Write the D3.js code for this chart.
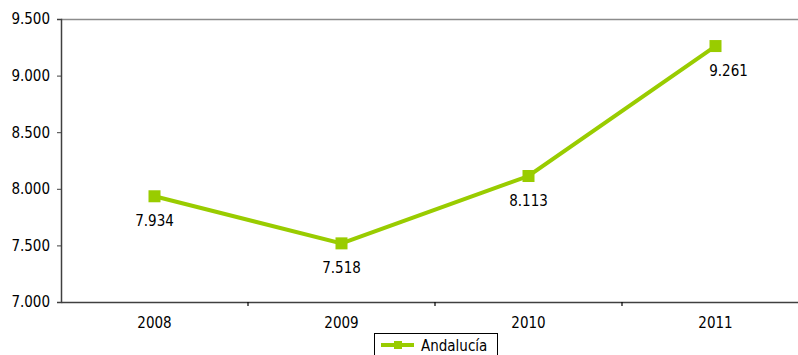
<!DOCTYPE html>
<html><head><meta charset="utf-8">
<script src="https://cdn.jsdelivr.net/npm/d3@7"></script>
<style>body{margin:0;background:#fff;}svg{display:block;font-family:"DejaVu Sans Condensed","DejaVu Sans",sans-serif;font-stretch:condensed;}</style>
</head><body><svg id="c" width="798" height="355"></svg>
<script>
const categories = ["2008","2009","2010","2011"];
const values = [7934, 7518, 8113, 9261];
const valueLabels = ["7.934","7.518","8.113","9.261"];
const yTicks = [7000,7500,8000,8500,9000,9500];
const seriesName = "Andalucía";

(function(){
const svg = d3.select("#c");
const left = 61, plotTop = 19, bottom = 302, band = 187;
const FF = "DejaVu Sans Condensed, DejaVu Sans, sans-serif";
const FS = 15;
const x = d3.scaleBand().domain(categories).range([left, left + band*categories.length]);
const y = d3.scaleLinear().domain([7000,9500]).range([bottom, plotTop]);
const fmt = v => d3.format(",")(v).replace(/,/g,".");
const green = "#99cc00";

// top border
svg.append("line").attr("x1",left).attr("x2",798).attr("y1",plotTop+0.5).attr("y2",plotTop+0.5)
  .attr("stroke","#8c8c8c").attr("stroke-width",1.5);

// y axis
const ya = svg.append("g").attr("transform",`translate(${left},0)`)
  .call(d3.axisLeft(y).tickValues(yTicks).tickFormat(fmt).tickSize(4).tickPadding(7));
ya.attr("font-family",FF).attr("font-size",FS);
ya.select(".domain").attr("stroke","#404040").attr("stroke-width",1.5);
ya.selectAll(".tick line").attr("stroke","#404040");
ya.selectAll("text").attr("fill","#000");

// x axis
const xa = svg.append("g").attr("transform",`translate(0,${bottom})`)
  .call(d3.axisBottom(x).tickSize(0).tickPadding(15));
xa.attr("font-family",FF).attr("font-size",FS);
xa.select(".domain").attr("stroke","#404040").attr("stroke-width",1.5);
xa.selectAll("text").attr("fill","#000");
// boundary ticks
xa.selectAll(".bt").data(categories.slice(1).concat(["_end"])).enter().append("line")
  .attr("x1",(d,i)=>left+band*(i+1)).attr("x2",(d,i)=>left+band*(i+1))
  .attr("y1",0).attr("y2",4).attr("stroke","#000").attr("stroke-width",1.2);

// line
const line = d3.line().x((d,i)=>x(categories[i])+x.bandwidth()/2).y(d=>y(d));
svg.append("path").datum(values).attr("d",line).attr("fill","none")
  .attr("stroke",green).attr("stroke-width",4);
svg.selectAll(".m").data(values).enter().append("rect")
  .attr("x",(d,i)=>x(categories[i])+x.bandwidth()/2-6).attr("y",d=>y(d)-6)
  .attr("width",12).attr("height",12).attr("fill",green);
svg.selectAll(".lbl").data(values).enter().append("text")
  .attr("x",(d,i)=>x(categories[i])+x.bandwidth()/2 + (i===values.length-1?13:0)).attr("y",d=>y(d)+30)
  .attr("text-anchor","middle").attr("font-family",FF).attr("font-size",FS).text((d,i)=>valueLabels[i]);

// legend
const lg = svg.append("g");
lg.append("rect").attr("x",374.5).attr("y",333.5).attr("width",123).attr("height",30)
  .attr("fill","#fff").attr("stroke","#000").attr("stroke-width",1);
lg.append("line").attr("x1",381).attr("x2",414).attr("y1",345).attr("y2",345)
  .attr("stroke",green).attr("stroke-width",4);
lg.append("rect").attr("x",394).attr("y",341).attr("width",8).attr("height",8).attr("fill",green);
lg.append("text").attr("x",421).attr("y",351).attr("font-family",FF).attr("font-size",FS).text(seriesName);
})();
</script></body></html>
